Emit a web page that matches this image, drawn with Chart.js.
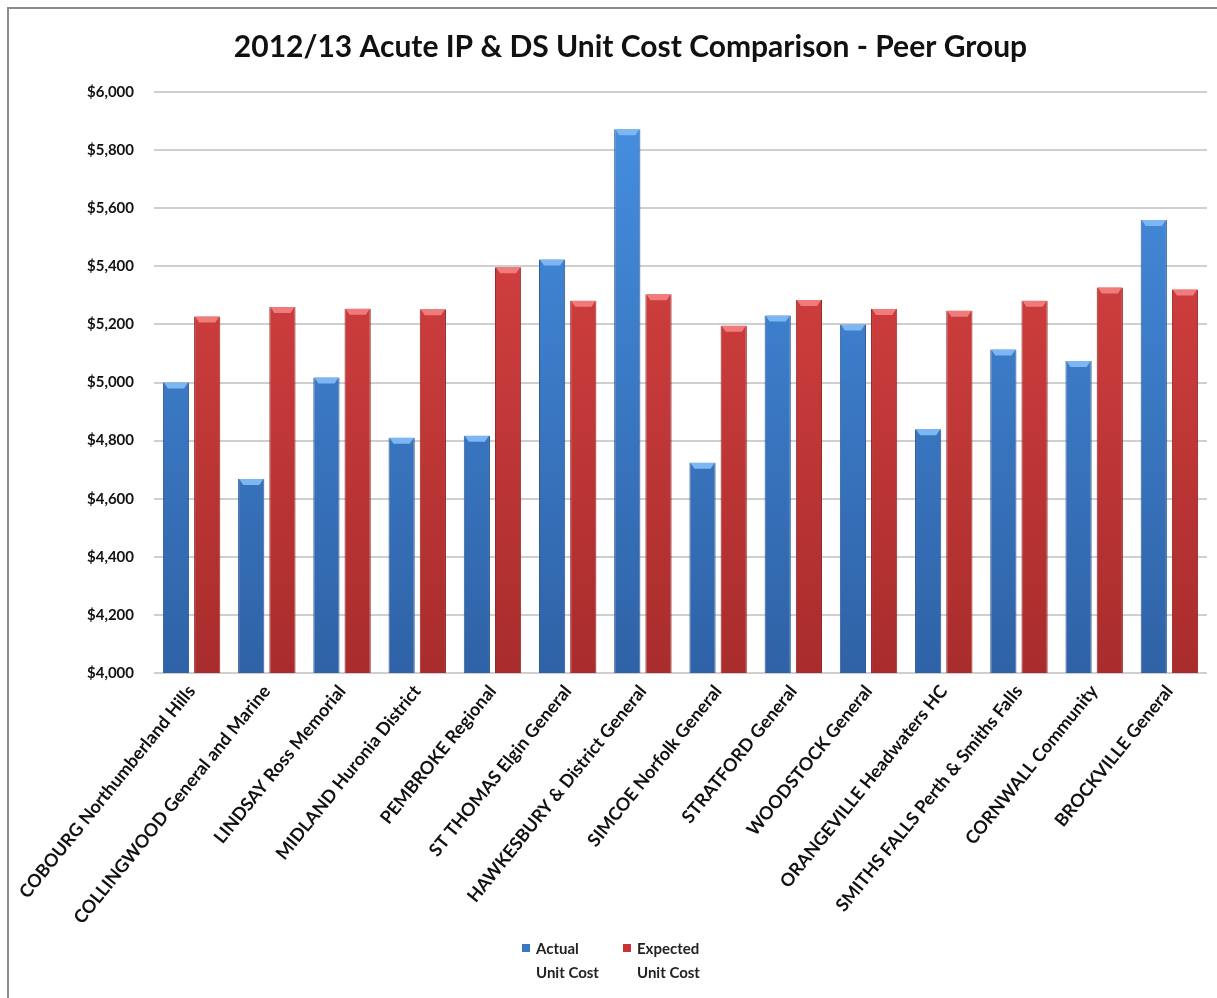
<!DOCTYPE html>
<html>
<head>
<meta charset="utf-8">
<script src="https://cdn.jsdelivr.net/npm/chart.js@4"></script>
<style>
  html, body { margin: 0; padding: 0; background: #fff; }
  #wrap { position: relative; width: 1217px; height: 998px; overflow: hidden; }
  #frameTop { position: absolute; left: 7px; top: 7px; right: 0; height: 2px; background: #8a8a8a; }
  #frameLeft { position: absolute; left: 7px; top: 7px; bottom: 0; width: 2px; background: #8a8a8a; }
  #legend { position: absolute; top: 936px; left: 522px; font-family: Lato, sans-serif; font-size: 15px; font-weight: bold; color: #222; line-height: 24px; }
  .item { position: absolute; top: 0; white-space: nowrap; }
  .box { position: absolute; left: 0; top: 8px; width: 8px; height: 8px; }
  .txt { position: absolute; left: 14px; top: 0; }
</style>
</head>
<body>
<div id="wrap">
  <canvas id="costChart" width="1217" height="998"></canvas>
  <div id="frameTop"></div>
  <div id="frameLeft"></div>
  <div id="legend">
    <div class="item" style="left:0"><div class="box" style="background:#3a78c6"></div><div class="txt">Actual<br>Unit Cost</div></div>
    <div class="item" style="left:101px"><div class="box" style="background:#c83434"></div><div class="txt">Expected<br>Unit Cost</div></div>
  </div>
</div>
<script>
// Hospitals (peer group)
const hospitals = [
    'COBOURG Northumberland Hills',
    'COLLINGWOOD General and Marine',
    'LINDSAY Ross Memorial',
    'MIDLAND Huronia District',
    'PEMBROKE Regional',
    'ST THOMAS Elgin General',
    'HAWKESBURY & District General',
    'SIMCOE Norfolk General',
    'STRATFORD General',
    'WOODSTOCK General',
    'ORANGEVILLE Headwaters HC',
    'SMITHS FALLS Perth & Smiths Falls',
    'CORNWALL Community',
    'BROCKVILLE General'
];

// Unit cost values
const actualCost = [5000, 4668, 5017, 4810, 4817, 5423, 5872, 4724, 5231, 5200, 4839, 5114, 5074, 5559];
const expectedCost = [5227, 5260, 5254, 5252, 5397, 5281, 5304, 5195, 5284, 5253, 5247, 5281, 5327, 5320];

// Y axis range
const yMin = 4000;
const yMax = 6000;
const yStep = 200;

// vertical gradient for the bars
function barGradient(ctx, top, bottom) {
    const chart = ctx.chart;
    const area = chart.chartArea;
    if (!area) return top;
    const g = chart.ctx.createLinearGradient(0, area.top, 0, area.bottom);
    g.addColorStop(0, top);
    g.addColorStop(1, bottom);
    return g;
}

// small lighter cap on top of each bar (bevel look)
const bevelPlugin = {
    id: 'bevel',
    afterDatasetsDraw(chart) {
        const ctx = chart.ctx;
        const caps = ['#7db6f2', '#f07b7b'];
        chart.data.datasets.forEach((ds, i) => {
            const meta = chart.getDatasetMeta(i);
            meta.data.forEach(bar => {
                const half = bar.width / 2;
                ctx.save();
                ctx.fillStyle = caps[i];
                ctx.beginPath();
                ctx.moveTo(bar.x - half + 1, bar.y);
                ctx.lineTo(bar.x + half - 1, bar.y);
                ctx.lineTo(bar.x + half - 5, bar.y + 6);
                ctx.lineTo(bar.x - half + 5, bar.y + 6);
                ctx.closePath();
                ctx.fill();
                ctx.restore();
            });
        });
    }
};

const config = {
    type: 'bar',
    data: {
        labels: hospitals,
        datasets: [
            {
                label: 'Actual Unit Cost',
                data: actualCost,
                backgroundColor: ctx => barGradient(ctx, '#4690e2', '#2f62a6'),
                borderColor: '#2a5590',
                borderWidth: { left: 1, right: 1, top: 0, bottom: 0 },
                categoryPercentage: 0.83,
                barPercentage: 0.84
            },
            {
                label: 'Expected Unit Cost',
                data: expectedCost,
                backgroundColor: ctx => barGradient(ctx, '#df4646', '#a92c2c'),
                borderColor: '#8e2222',
                borderWidth: { left: 1, right: 1, top: 0, bottom: 0 },
                categoryPercentage: 0.83,
                barPercentage: 0.84
            }
        ]
    },
    options: {
        responsive: false,
        animation: false,
        layout: {
            padding: { left: 54, right: 10, top: 0, bottom: 0 }
        },
        scales: {
            x: {
                grid: { display: false, drawTicks: false },
                border: { display: false },
                ticks: {
                    color: '#111',
                    font: { family: 'Lato', size: 18, weight: 'bold' },
                    minRotation: 51,
                    maxRotation: 51,
                    autoSkip: false,
                    padding: 8
                },
                afterFit: scale => { scale.height = 325; }
            },
            y: {
                min: yMin,
                max: yMax,
                grid: { color: '#cfcfcf', lineWidth: 2, drawTicks: false },
                border: { display: false },
                ticks: {
                    stepSize: yStep,
                    color: '#111',
                    padding: 20,
                    font: { family: 'Lato', size: 15, weight: 'bold' },
                    callback: v => '$' + v.toLocaleString('en-US')
                },
                afterFit: scale => { scale.width = 100; }
            }
        },
        plugins: {
            legend: { display: false },
            tooltip: { enabled: false },
            title: {
                display: true,
                text: '2012/13 Acute IP & DS Unit Cost Comparison - Peer Group',
                color: '#111',
                font: { family: 'Lato', size: 30, weight: 'bold' },
                padding: { top: 29, bottom: 27 }
            }
        }
    },
    plugins: [bevelPlugin]
};

const costChart = new Chart(document.getElementById('costChart'), config);
</script>
</body>
</html>
